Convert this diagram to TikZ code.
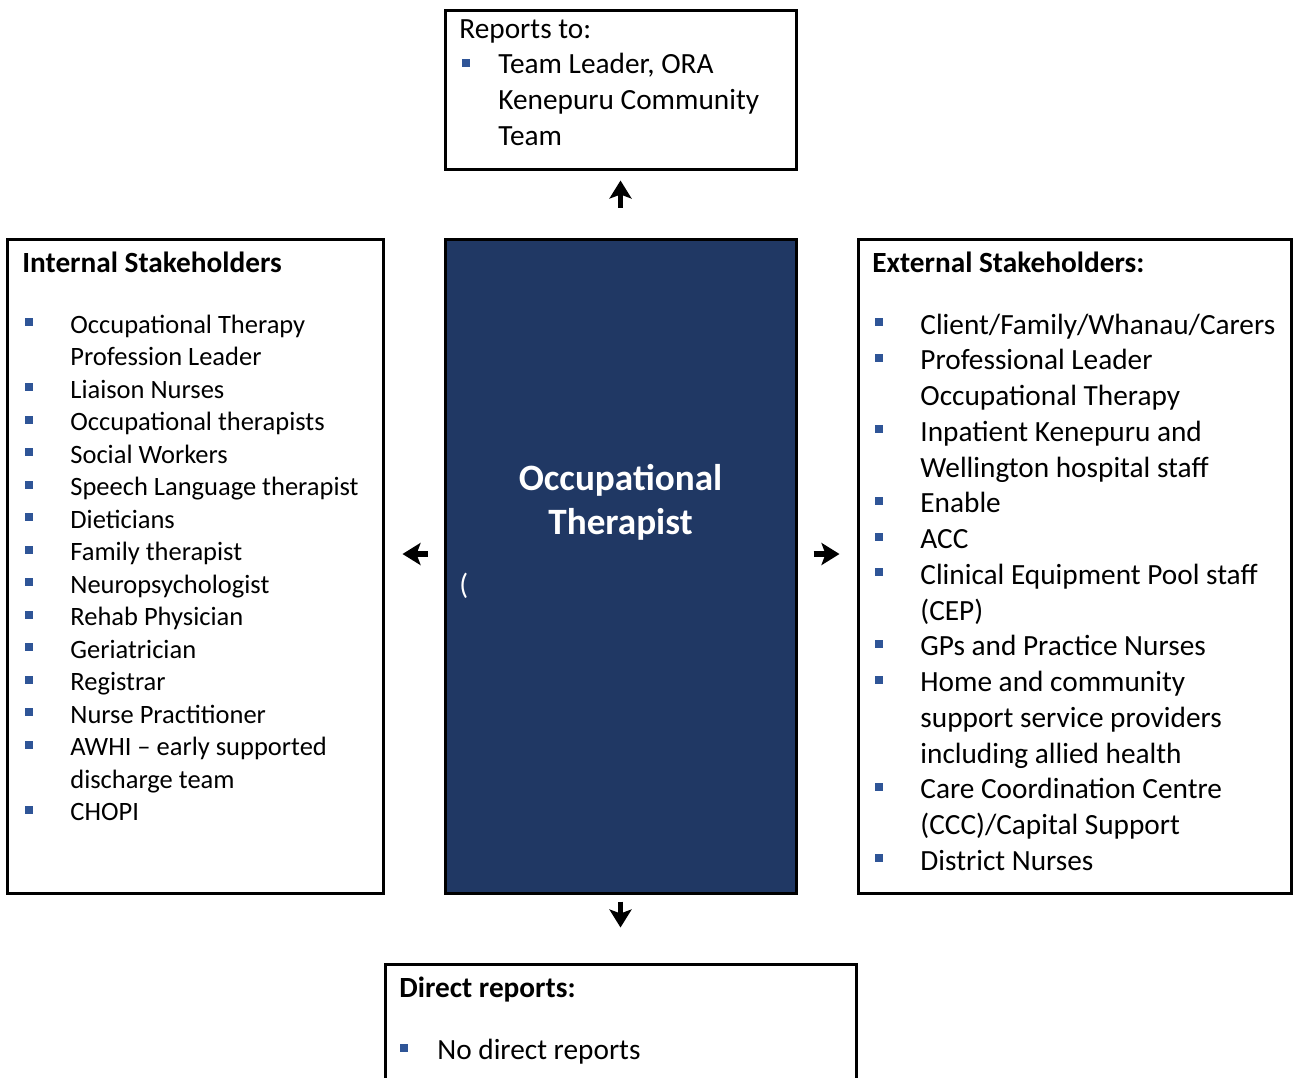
\documentclass[tikz,border=0pt]{standalone}
\usepackage{fontspec}
\setmainfont{Carlito}
\usetikzlibrary{arrows.meta,fit}
\definecolor{navy}{RGB}{32,56,100}
\definecolor{bulletblue}{RGB}{47,85,151}
\tikzstyle{arrow} = [-{Stealth[length=9pt,width=11pt,inset=2pt]},line width=2.8pt]
\tikzstyle{box} = [draw,line width=1.5pt,inner sep=0pt]
\tikzstyle{entry} = [anchor=base west,inner sep=0pt,font=\fontsize{14.65}{17.9}\selectfont]
\tikzstyle{smallentry} = [entry,font=\fontsize{13.25}{16.25}\selectfont]
\tikzstyle{title} = [entry,font=\bfseries\fontsize{14.65}{17.9}\selectfont]
\tikzstyle{sq} = [fill=bulletblue,inner sep=0pt,minimum size=4pt]
\begin{document}
\begin{tikzpicture}[x=0.5pt,y=-0.5pt]
    \useasboundingbox (0,0) rectangle (1293,1077);
    % boxes
    \node[box, fit={(445,10) (796,169)}] (rep) {};
    \node[box, fill=navy, fit={(445,239) (796,893)}] (ot) {};
    \node[box, fit={(7,239) (383,893)}] (int) {};
    \node[box, fit={(858,239) (1291,893)}] (ext) {};
    \node[box, fit={(385,964) (856,1095)}] (dir) {};

    % reports to
    \node[entry] (rept) at (459,38) {Reports to:};
    \node[sq] (repb) at (466,63) {};
    \node[entry] (rep1) at (498,73.5) {Team Leader, ORA};
    \node[entry] (rep2) at (498,109.5) {Kenepuru Community};
    \node[entry] (rep3) at (498,145) {Team};

    % occupational therapist
    \node[anchor=base, text=white, font=\bfseries\fontsize{18.6}{22.5}\selectfont] (ot1) at (620.5,490) {Occupational};
    \node[anchor=base, text=white, font=\bfseries\fontsize{18.6}{22.5}\selectfont] (ot2) at (620.5,534) {Therapist};
    \node[entry, text=white] (ot3) at (459,594) {(};

    % internal stakeholders
    \node[title] (intt) at (22,272) {Internal Stakeholders};
    \foreach \t [count=\i] in {{Occupational Therapy},{Profession Leader},{Liaison Nurses},
        {Occupational therapists},{Social Workers},{Speech Language therapist},{Dieticians},
        {Family therapist},{Neuropsychologist},{Rehab Physician},{Geriatrician},{Registrar},
        {Nurse Practitioner},{AWHI – early supported},{discharge team},{CHOPI}}
        \node[smallentry] (int\i) at (70,{333+32.5*(\i-1)}) {\t};
    \foreach \i in {1,3,4,5,6,7,8,9,10,11,12,13,14,16}
        \node[sq] (intb\i) at (28.5,{322+32.5*(\i-1)}) {};

    % external stakeholders
    \node[title] (extt) at (872,272) {External Stakeholders:};
    \foreach \t [count=\i] in {{Client/Family/Whanau/Carers},{Professional Leader},{Occupational Therapy},
        {Inpatient Kenepuru and},{Wellington hospital staff},{Enable},{ACC},
        {Clinical Equipment Pool staff},{(CEP)},{GPs and Practice Nurses},{Home and community},
        {support service providers},{including allied health},{Care Coordination Centre},
        {(CCC)/Capital Support},{District Nurses}}
        \node[entry] (ext\i) at (920,{334+35.75*(\i-1)}) {\t};
    \foreach \i in {1,2,4,6,7,8,10,11,14,16}
        \node[sq] (extb\i) at (878.5,{322+35.75*(\i-1)}) {};

    % direct reports
    \node[title] (dirt) at (399,997) {Direct reports:};
    \node[sq] (dirb) at (404,1048) {};
    \node[entry] (dir1) at (437,1059) {No direct reports};

    % arrows
    \draw[arrow, shorten <=15pt, shorten >=5pt] (ot.north) -- (rep.south);
    \draw[arrow, shorten <=8pt, shorten >=9pt] ([yshift=6pt]ot.west) -- ([yshift=6pt]int.east);
    \draw[arrow, shorten <=8pt, shorten >=8.5pt] ([yshift=6pt]ot.east) -- ([yshift=6pt]ext.west);
    \draw[arrow, shorten <=3.5pt, shorten >=17.5pt] (ot.south) -- (dir.north);
\end{tikzpicture}
\end{document}
